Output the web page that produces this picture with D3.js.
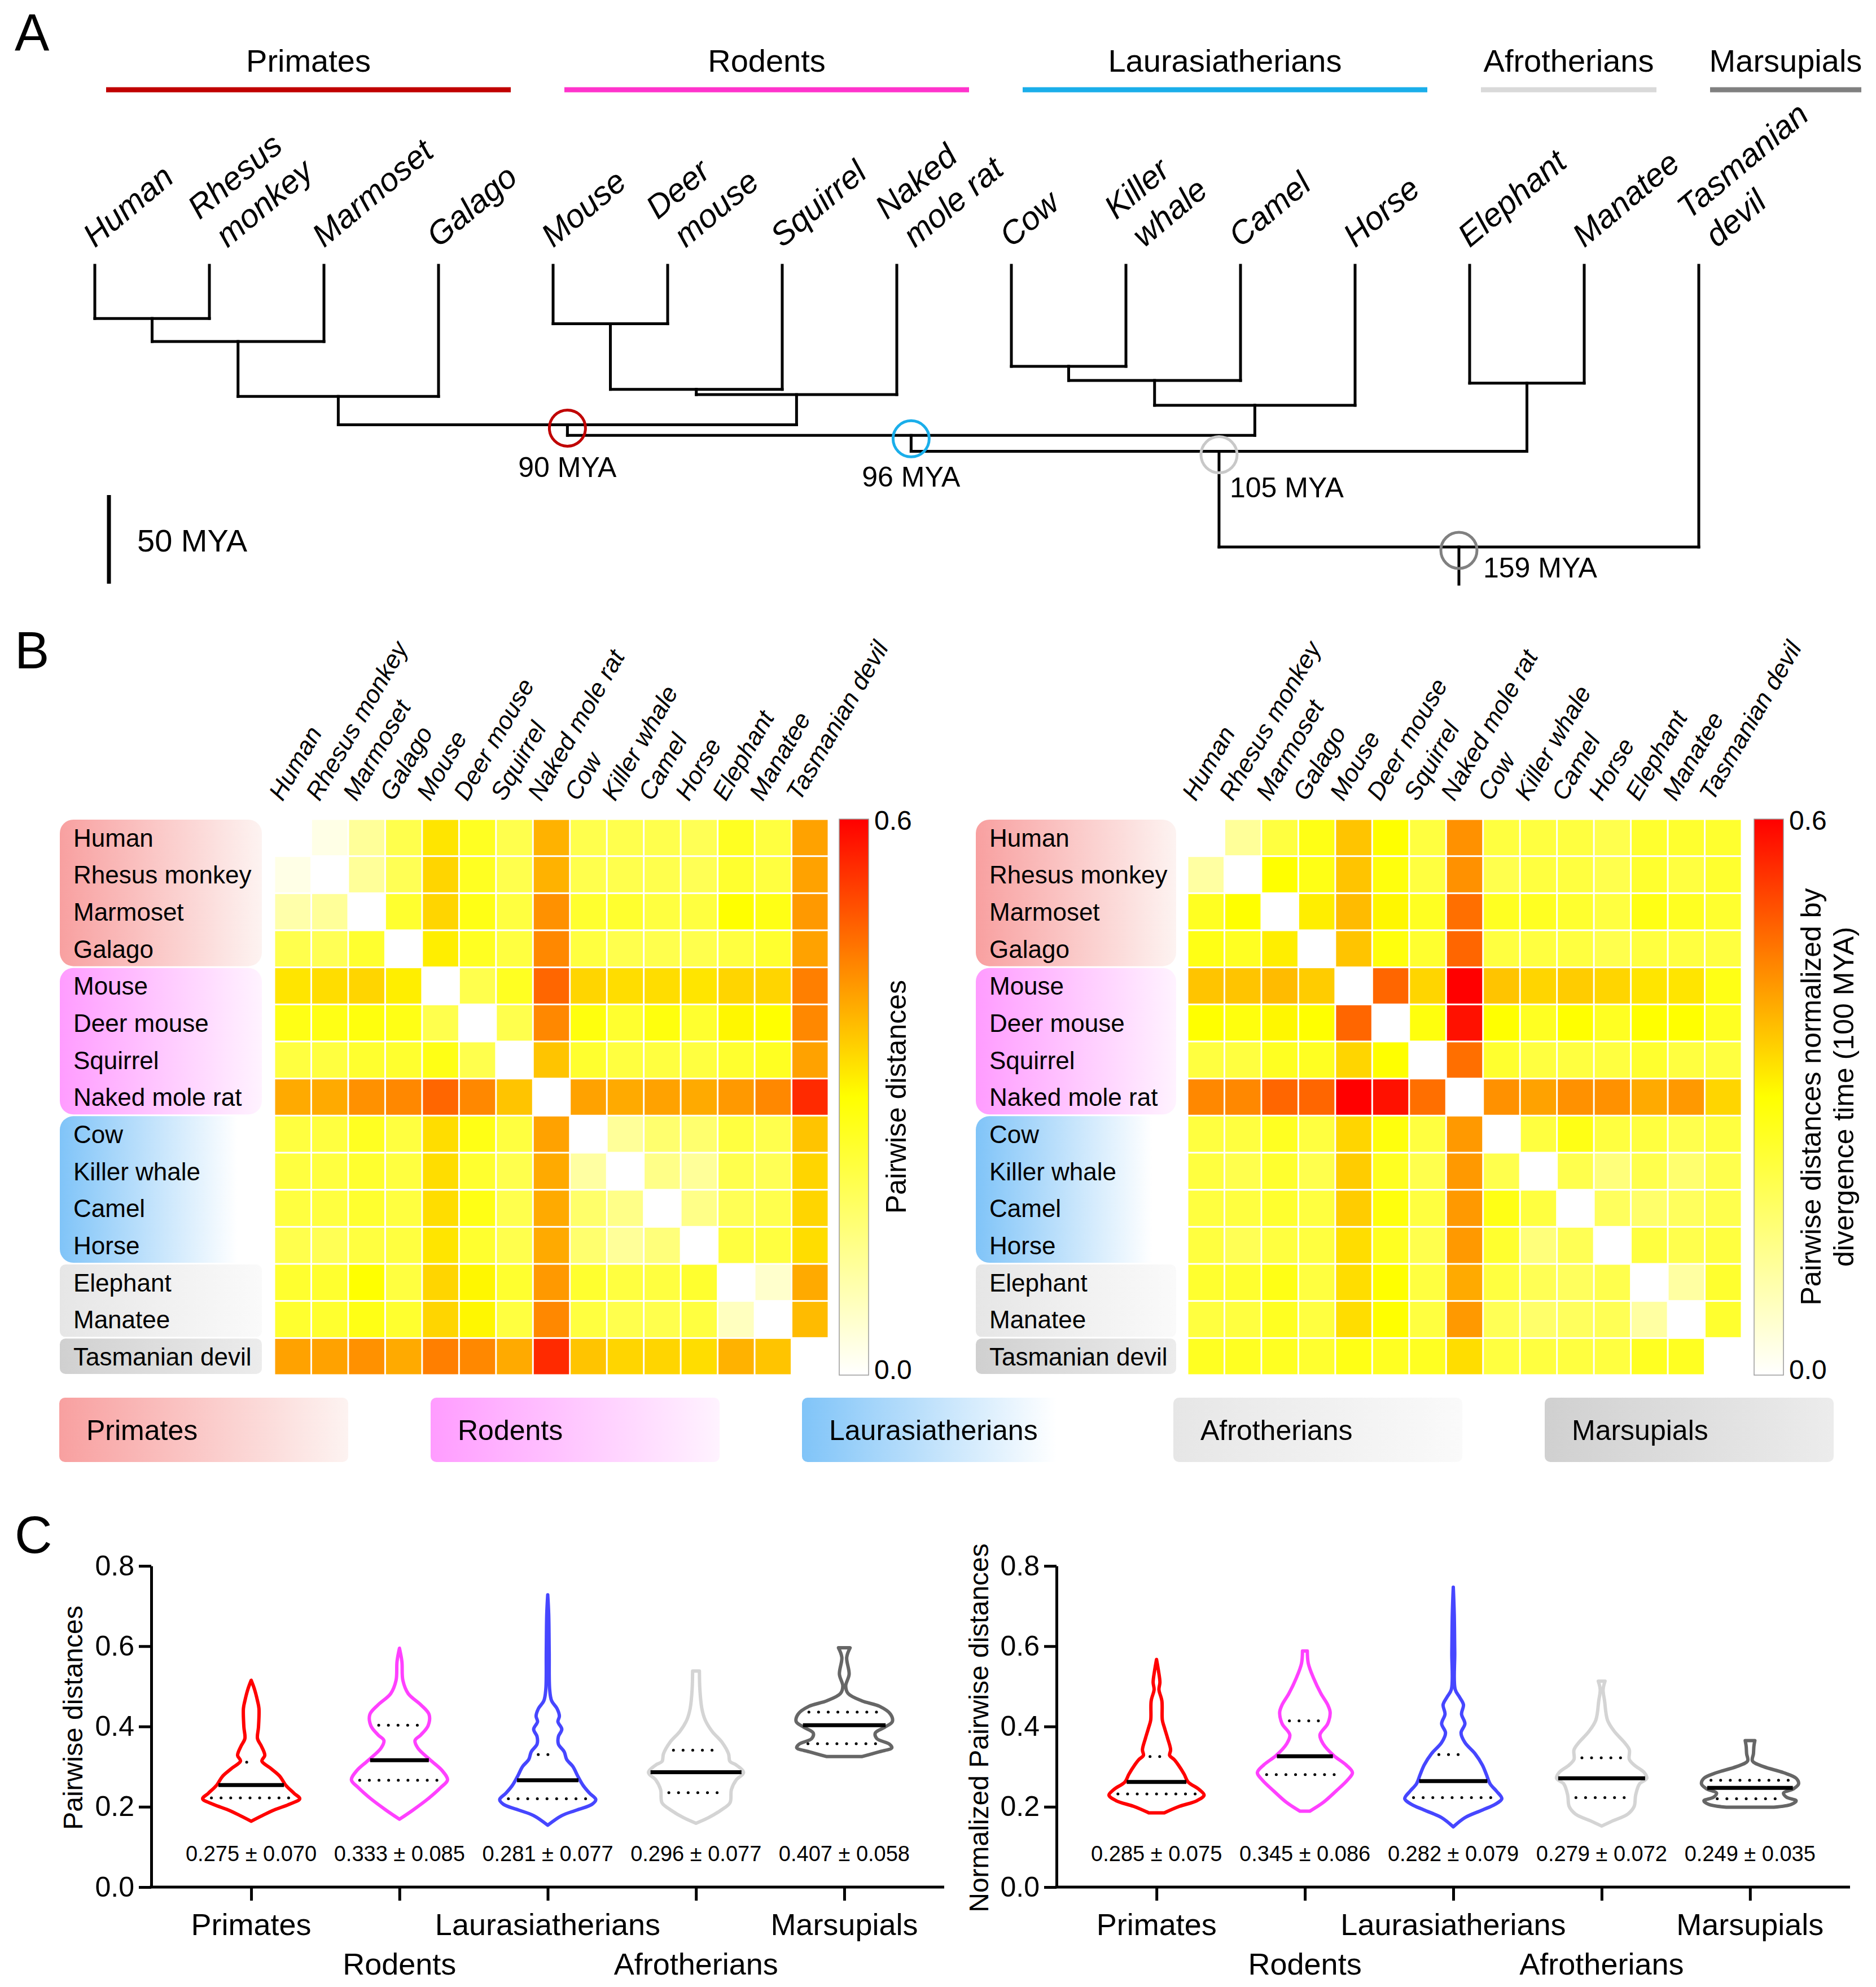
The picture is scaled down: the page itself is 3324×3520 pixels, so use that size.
<!DOCTYPE html>
<html>
<head>
<meta charset="utf-8">
<script src="https://cdn.jsdelivr.net/npm/d3@7"></script>
<style>
body { margin: 0; background: #fff; }
svg { display: block; }
text { font-family: "Liberation Sans", Arial, sans-serif; fill: #000; }
</style>
</head>
<body>
<svg width="3324" height="3520"></svg>
<script>
// ---- data ----
var species = ["Human", "Rhesus monkey", "Marmoset", "Galago", "Mouse", "Deer mouse", "Squirrel",
  "Naked mole rat", "Cow", "Killer whale", "Camel", "Horse", "Elephant", "Manatee", "Tasmanian devil"];
var tipLabels = [["Human"], ["Rhesus", "monkey"], ["Marmoset"], ["Galago"], ["Mouse"], ["Deer", "mouse"],
  ["Squirrel"], ["Naked", "mole rat"], ["Cow"], ["Killer", "whale"], ["Camel"], ["Horse"], ["Elephant"],
  ["Manatee"], ["Tasmanian", "devil"]];
var groups = ["Primates", "Rodents", "Laurasiatherians", "Afrotherians", "Marsupials"];
var groupSizes = [4, 4, 4, 2, 1];

// tree: [child A, child B, age (MYA), node name]
var merges = [
  ["Human", "Rhesus monkey", 30, "n1"],
  ["n1", "Marmoset", 43, "n2"],
  ["n2", "Galago", 74, "primates"],
  ["Mouse", "Deer mouse", 33, "n4"],
  ["n4", "Squirrel", 70, "n5"],
  ["n5", "Naked mole rat", 73, "rodents"],
  ["primates", "rodents", 90, "euarchontoglires"],
  ["Cow", "Killer whale", 57, "n8"],
  ["n8", "Camel", 65, "n9"],
  ["n9", "Horse", 79, "laurasiatheria"],
  ["euarchontoglires", "laurasiatheria", 96, "boreoeutheria"],
  ["Elephant", "Manatee", 66.5, "afrotheria"],
  ["boreoeutheria", "afrotheria", 105, "eutheria"],
  ["eutheria", "Tasmanian devil", 159, "theria"]
];
var rootStubAge = 180;
var markedNodes = ["euarchontoglires", "boreoeutheria", "eutheria", "theria"];
var markedLabels = ["90 MYA", "96 MYA", "105 MYA", "159 MYA"];

// pairwise distances (rows/cols in species order)
var rawDist = [
  [0, 0.03, 0.12, 0.21, 0.33, 0.26, 0.21, 0.39, 0.21, 0.21, 0.21, 0.20, 0.26, 0.225, 0.41],
  [0.03, 0, 0.12, 0.20, 0.35, 0.26, 0.21, 0.39, 0.21, 0.21, 0.21, 0.20, 0.245, 0.225, 0.41],
  [0.10, 0.12, 0, 0.245, 0.35, 0.275, 0.225, 0.43, 0.245, 0.245, 0.225, 0.225, 0.30, 0.275, 0.42],
  [0.21, 0.20, 0.245, 0, 0.32, 0.26, 0.225, 0.44, 0.225, 0.21, 0.21, 0.21, 0.225, 0.245, 0.41],
  [0.33, 0.34, 0.35, 0.32, 0, 0.21, 0.26, 0.48, 0.35, 0.34, 0.34, 0.33, 0.35, 0.35, 0.45],
  [0.275, 0.275, 0.285, 0.275, 0.21, 0, 0.21, 0.44, 0.285, 0.245, 0.285, 0.245, 0.31, 0.30, 0.44],
  [0.225, 0.225, 0.245, 0.245, 0.275, 0.21, 0, 0.37, 0.245, 0.225, 0.225, 0.225, 0.245, 0.26, 0.41],
  [0.40, 0.40, 0.43, 0.44, 0.48, 0.44, 0.37, 0, 0.41, 0.40, 0.41, 0.40, 0.42, 0.44, 0.55],
  [0.225, 0.225, 0.26, 0.225, 0.34, 0.275, 0.225, 0.41, 0, 0.12, 0.17, 0.17, 0.225, 0.21, 0.37],
  [0.225, 0.225, 0.245, 0.225, 0.34, 0.245, 0.21, 0.40, 0.11, 0, 0.14, 0.12, 0.21, 0.20, 0.35],
  [0.225, 0.225, 0.245, 0.225, 0.34, 0.275, 0.21, 0.40, 0.175, 0.14, 0, 0.14, 0.20, 0.21, 0.35],
  [0.21, 0.20, 0.225, 0.225, 0.33, 0.245, 0.21, 0.40, 0.17, 0.12, 0.155, 0, 0.225, 0.225, 0.34],
  [0.245, 0.245, 0.30, 0.225, 0.35, 0.31, 0.245, 0.42, 0.245, 0.225, 0.225, 0.245, 0, 0.06, 0.40],
  [0.245, 0.245, 0.275, 0.245, 0.35, 0.31, 0.225, 0.44, 0.225, 0.21, 0.21, 0.225, 0.075, 0, 0.38],
  [0.41, 0.41, 0.43, 0.40, 0.45, 0.44, 0.40, 0.55, 0.37, 0.35, 0.35, 0.34, 0.39, 0.37, 0]
];
var normDist = [
  [0, 0.12, 0.225, 0.275, 0.37, 0.30, 0.225, 0.43, 0.225, 0.225, 0.225, 0.21, 0.245, 0.245, 0.245],
  [0.11, 0, 0.30, 0.275, 0.37, 0.285, 0.225, 0.43, 0.21, 0.225, 0.225, 0.21, 0.245, 0.225, 0.245],
  [0.26, 0.30, 0, 0.32, 0.38, 0.31, 0.26, 0.47, 0.26, 0.26, 0.245, 0.225, 0.275, 0.26, 0.245],
  [0.275, 0.26, 0.32, 0, 0.37, 0.285, 0.245, 0.48, 0.225, 0.225, 0.225, 0.21, 0.225, 0.225, 0.225],
  [0.37, 0.37, 0.38, 0.36, 0, 0.48, 0.35, 0.60, 0.37, 0.35, 0.36, 0.35, 0.33, 0.33, 0.275],
  [0.30, 0.285, 0.31, 0.30, 0.48, 0, 0.285, 0.58, 0.30, 0.26, 0.30, 0.26, 0.30, 0.30, 0.26],
  [0.225, 0.225, 0.26, 0.26, 0.35, 0.30, 0, 0.47, 0.245, 0.225, 0.225, 0.225, 0.245, 0.225, 0.225],
  [0.44, 0.44, 0.48, 0.48, 0.60, 0.58, 0.47, 0, 0.43, 0.41, 0.43, 0.43, 0.40, 0.42, 0.35],
  [0.225, 0.225, 0.26, 0.225, 0.35, 0.285, 0.225, 0.42, 0, 0.225, 0.275, 0.225, 0.225, 0.21, 0.225],
  [0.225, 0.21, 0.245, 0.21, 0.36, 0.26, 0.21, 0.42, 0.21, 0, 0.21, 0.155, 0.21, 0.17, 0.21],
  [0.225, 0.225, 0.245, 0.225, 0.36, 0.285, 0.225, 0.42, 0.275, 0.225, 0, 0.19, 0.175, 0.19, 0.21],
  [0.225, 0.20, 0.225, 0.225, 0.34, 0.26, 0.21, 0.42, 0.245, 0.155, 0.20, 0, 0.225, 0.21, 0.225],
  [0.245, 0.245, 0.275, 0.225, 0.34, 0.30, 0.225, 0.40, 0.225, 0.20, 0.19, 0.21, 0, 0.11, 0.245],
  [0.225, 0.225, 0.26, 0.225, 0.34, 0.30, 0.225, 0.42, 0.20, 0.175, 0.19, 0.20, 0.11, 0, 0.245],
  [0.26, 0.26, 0.26, 0.245, 0.275, 0.26, 0.26, 0.34, 0.225, 0.225, 0.225, 0.225, 0.26, 0.26, 0]
];

// violin outlines: [value, relative density]
var rawViolins = [
  [[0.164,0],[0.177,0.21],[0.192,0.47],[0.206,0.78],[0.220,1.0],[0.234,0.88],[0.254,0.71],[0.276,0.59],[0.295,0.41],[0.314,0.22],[0.328,0.28],[0.351,0.21],[0.370,0.13],[0.398,0.15],[0.445,0.16],[0.464,0.13],[0.492,0.07],[0.515,0]],
  [[0.169,0],[0.192,0.28],[0.220,0.59],[0.248,0.85],[0.267,0.99],[0.290,0.88],[0.316,0.64],[0.346,0.38],[0.365,0.32],[0.379,0.44],[0.402,0.59],[0.430,0.61],[0.454,0.44],[0.482,0.18],[0.515,0.07],[0.562,0.05],[0.595,0]],
  [[0.154,0],[0.178,0.29],[0.192,0.60],[0.206,0.91],[0.218,0.99],[0.234,0.86],[0.253,0.73],[0.276,0.62],[0.300,0.52],[0.318,0.39],[0.337,0.34],[0.356,0.22],[0.375,0.22],[0.393,0.29],[0.412,0.21],[0.426,0.24],[0.445,0.19],[0.464,0.08],[0.492,0.04],[0.585,0.03],[0.679,0.02],[0.728,0]],
  [[0.159,0],[0.173,0.26],[0.192,0.52],[0.210,0.70],[0.243,0.73],[0.267,0.83],[0.285,0.98],[0.304,0.83],[0.313,0.70],[0.332,0.67],[0.360,0.54],[0.388,0.33],[0.416,0.19],[0.445,0.12],[0.492,0.08],[0.538,0.07]],
  [[0.325,0.36],[0.337,0.72],[0.347,0.98],[0.356,0.93],[0.370,0.67],[0.384,0.64],[0.398,0.83],[0.412,0.99],[0.431,0.95],[0.450,0.73],[0.464,0.36],[0.482,0.08],[0.501,0.03],[0.530,0.10],[0.572,0.05],[0.596,0.12]]
];
var normViolins = [
  [[0.185,0.16],[0.201,0.47],[0.215,0.83],[0.229,0.98],[0.243,0.88],[0.262,0.65],[0.281,0.57],[0.304,0.45],[0.318,0.36],[0.328,0.27],[0.342,0.29],[0.370,0.23],[0.398,0.16],[0.416,0.12],[0.464,0.11],[0.492,0.05],[0.510,0.07],[0.539,0.04],[0.567,0]],
  [[0.189,0.10],[0.211,0.38],[0.239,0.64],[0.267,0.88],[0.285,0.98],[0.304,0.85],[0.328,0.59],[0.356,0.38],[0.379,0.31],[0.407,0.47],[0.435,0.52],[0.454,0.47],[0.482,0.33],[0.520,0.18],[0.557,0.07],[0.588,0.05]],
  [[0.150,0],[0.173,0.24],[0.192,0.60],[0.206,0.86],[0.220,1.0],[0.239,0.89],[0.257,0.76],[0.281,0.68],[0.304,0.60],[0.332,0.45],[0.360,0.24],[0.384,0.16],[0.407,0.24],[0.431,0.17],[0.454,0.21],[0.473,0.13],[0.492,0.04],[0.585,0.03],[0.679,0.02],[0.747,0]],
  [[0.152,0],[0.164,0.21],[0.182,0.54],[0.201,0.67],[0.229,0.70],[0.257,0.78],[0.271,0.93],[0.285,0.88],[0.304,0.67],[0.318,0.57],[0.342,0.57],[0.360,0.47],[0.388,0.26],[0.416,0.12],[0.464,0.06],[0.492,0.03],[0.513,0.07]],
  [[0.199,0.49],[0.206,0.85],[0.215,0.95],[0.224,0.75],[0.234,0.69],[0.245,0.90],[0.257,1.0],[0.271,0.95],[0.285,0.69],[0.300,0.28],[0.314,0.05],[0.332,0.07],[0.351,0.08],[0.365,0.10]]
];
var rawMedian = [0.254, 0.316, 0.266, 0.286, 0.403];
var rawQ1 = [0.222, 0.266, 0.220, 0.235, 0.357];
var rawQ3 = [0.311, 0.403, 0.330, 0.341, 0.436];
var normMedian = [0.262, 0.326, 0.264, 0.271, 0.247];
var normQ1 = [0.232, 0.280, 0.223, 0.223, 0.220];
var normQ3 = [0.325, 0.414, 0.330, 0.322, 0.266];
var rawMean = [0.275, 0.333, 0.281, 0.296, 0.407];
var rawSD = [0.070, 0.085, 0.077, 0.077, 0.058];
var normMean = [0.285, 0.345, 0.282, 0.279, 0.249];
var normSD = [0.075, 0.086, 0.079, 0.072, 0.035];
var yTicks = [0, 0.2, 0.4, 0.6, 0.8];

// ---- styles ----
var barColors = ["#c00000", "#ff33cc", "#1aaeea", "#d9d9d9", "#808080"];
var markColors = ["#c00000", "#1aaeea", "#c8c8c8", "#808080"];
var violinColors = ["#ff0000", "#ff40ff", "#4646ff", "#d4d4d4", "#666666"];
var boxFrom = ["#f8a0a0", "#ff9cff", "#80c4f8", "#e6e6e6", "#d0d0d0"];
var boxTo = ["#fdf3f1", "#fff3ff", "#ffffff", "#fafafa", "#ececec"];
var fontFam = "'Liberation Sans', Arial, sans-serif";

var svg = d3.select("svg");
svg.append("rect").attr("width", 3324).attr("height", 3520).attr("fill", "#fff");
var defs = svg.append("defs");

groups.forEach(function(gname, i) {
  var lg = defs.append("linearGradient").attr("id", "box" + i).attr("x1", 0).attr("x2", 1).attr("y1", 0).attr("y2", 0);
  lg.append("stop").attr("offset", 0).attr("stop-color", boxFrom[i]);
  lg.append("stop").attr("offset", i == 2 ? 0.88 : 1).attr("stop-color", boxTo[i]);
});

var speciesGroup = [];
groupSizes.forEach(function(n, i) { for (var k = 0; k < n; k++) speciesGroup.push(i); });

function panelLetter(t, y) {
  svg.append("text").attr("x", 26).attr("y", y).attr("font-size", 92).text(t);
}

// ---- A: tree ----
panelLetter("A", 90);

var tipX = d3.scalePoint().domain(species).range([168, 3010]);
var ageY = d3.scaleLinear().domain([0, 159]).range([470, 969]);

var byName = {};
species.forEach(function(s) { byName[s] = {name: s, age: 0}; });
merges.forEach(function(m) {
  byName[m[3]] = {name: m[3], age: m[2], children: [byName[m[0]], byName[m[1]]]};
});
var root = d3.hierarchy(byName[merges[merges.length - 1][3]]);
root.eachAfter(function(n) {
  n.x = n.children ? d3.mean(n.children, function(c) { return c.x; }) : tipX(n.data.name);
});

var tree = svg.append("g").attr("stroke", "#000").attr("stroke-width", 5).attr("stroke-linecap", "square");
root.descendants().forEach(function(n) {
  var top = ageY(n.data.age);
  var bottom = n.parent ? ageY(n.parent.data.age) : ageY(rootStubAge);
  tree.append("line").attr("x1", n.x).attr("x2", n.x).attr("y1", top).attr("y2", bottom);
  if (n.children) {
    tree.append("line").attr("x1", n.children[0].x).attr("x2", n.children[1].x).attr("y1", top).attr("y2", top);
  }
});

// group bars + names
var start = 0;
groups.forEach(function(gname, i) {
  var first = species[start], last = species[start + groupSizes[i] - 1];
  var x1 = tipX(first) + 20;
  var x2 = Math.max(tipX(last) + 128, x1 + 268);
  svg.append("line").attr("x1", x1).attr("x2", x2).attr("y1", 159).attr("y2", 159)
    .attr("stroke", barColors[i]).attr("stroke-width", 9);
  svg.append("text").attr("x", (x1 + x2) / 2).attr("y", 127).attr("text-anchor", "middle")
    .attr("font-size", 56).text(gname);
  start += groupSizes[i];
});

// tip labels
species.forEach(function(s, i) {
  var lines = tipLabels[i];
  var dx = lines.length > 1 ? 32 : 0;
  var t = svg.append("text")
    .attr("transform", "translate(" + (tipX(s) + dx) + ",440) rotate(-40)")
    .attr("font-style", "italic").attr("font-size", 58);
  lines.forEach(function(l, k) {
    t.append("tspan").attr("x", (lines.length > 1 && k == 0) ? -6 : 0)
      .attr("y", (k - (lines.length - 1)) * 70).text(l);
  });
});

// marked divergence nodes
var markLabelPos = [
  {dx: 0, dy: 93, anchor: "middle"},
  {dx: 0, dy: 91, anchor: "middle"},
  {dx: 19, dy: 81, anchor: "start"},
  {dx: 43, dy: 54, anchor: "start"}
];
markedNodes.forEach(function(name, i) {
  var n = root.find(function(d) { return d.data.name == name; });
  var cy = ageY(n.data.age);
  svg.append("circle").attr("cx", n.x).attr("cy", cy + 6).attr("r", 32)
    .attr("fill", "none").attr("stroke", markColors[i]).attr("stroke-width", 5);
  svg.append("text").attr("x", n.x + markLabelPos[i].dx).attr("y", cy + markLabelPos[i].dy)
    .attr("text-anchor", markLabelPos[i].anchor).attr("font-size", 50).text(markedLabels[i]);
});

// scale bar
svg.append("line").attr("x1", 193).attr("x2", 193).attr("y1", 877).attr("y2", 877 + ageY(50) - ageY(0))
  .attr("stroke", "#000").attr("stroke-width", 7);
svg.append("text").attr("x", 243).attr("y", 977).attr("font-size", 56).text("50 MYA");

// ---- B: heatmaps ----
panelLetter("B", 1184);

var heatColor = d3.scaleLinear().domain([0, 0.3, 0.6]).range(["#ffffff", "#ffff00", "#ff0000"]).clamp(true);

var cg = defs.append("linearGradient").attr("id", "cbar").attr("x1", 0).attr("x2", 0).attr("y1", 1).attr("y2", 0);
d3.range(0, 1.001, 0.1).forEach(function(f) {
  cg.append("stop").attr("offset", f).attr("stop-color", heatColor(f * 0.6));
});

function drawHeatmap(mat, gx, boxX0, boxX1, cbX, titleLines) {
  var xb = d3.scaleBand().domain(species).range([gx, gx + 982]);
  var yb = d3.scaleBand().domain(species).range([1451, 2436]);
  var bw = xb.bandwidth(), bh = yb.bandwidth();
  var g = svg.append("g");

  // row group boxes
  var s0 = 0;
  groups.forEach(function(gname, i) {
    var y0 = yb(species[s0]);
    g.append("rect").attr("x", boxX0).attr("y", y0 + 1).attr("width", boxX1 - boxX0)
      .attr("height", groupSizes[i] * bh - 3).attr("rx", i < 3 ? 24 : 10)
      .attr("fill", "url(#box" + i + ")");
    s0 += groupSizes[i];
  });
  species.forEach(function(s) {
    g.append("text").attr("x", boxX0 + 24).attr("y", yb(s) + bh / 2).attr("dy", "0.36em")
      .attr("font-size", 44).text(s);
  });

  // cells
  mat.forEach(function(row, i) {
    row.forEach(function(v, j) {
      if (i == species.length - 1 && j == species.length - 1) return;
      g.append("rect").attr("x", xb(species[j]) + 1.5).attr("y", yb(species[i]) + 1.5)
        .attr("width", bw - 3).attr("height", bh - 3).attr("fill", heatColor(v));
    });
  });

  // column labels
  species.forEach(function(s) {
    g.append("text").attr("transform", "translate(" + (xb(s) + bw / 2 - 18) + ",1421) rotate(-60)")
      .attr("font-style", "italic").attr("font-size", 44).text(s);
  });

  // colour bar
  g.append("rect").attr("x", cbX).attr("y", 1451).attr("width", 52).attr("height", 985)
    .attr("fill", "url(#cbar)").attr("stroke", "#9a9a9a").attr("stroke-width", 1.5);
  g.append("text").attr("x", cbX + 62).attr("y", 1470).attr("font-size", 48).text("0.6");
  g.append("text").attr("x", cbX + 62).attr("y", 2443).attr("font-size", 48).text("0.0");
  titleLines.forEach(function(l, k) {
    var cx = cbX + 118 + k * 58;
    g.append("text").attr("transform", "translate(" + cx + ",1943) rotate(-90)")
      .attr("text-anchor", "middle").attr("font-size", 50).text(l);
  });
}

drawHeatmap(rawDist, 486, 106, 464, 1487, ["Pairwise distances"]);
drawHeatmap(normDist, 2104, 1729, 2084, 3108, ["Pairwise distances normalized by", "divergence time (100 MYA)"]);

// group legend
groups.forEach(function(gname, i) {
  svg.append("rect").attr("x", 105 + i * 658).attr("y", 2476).attr("width", 512).attr("height", 114)
    .attr("rx", 10).attr("fill", "url(#box" + i + ")");
  svg.append("text").attr("x", 153 + i * 658).attr("y", 2533).attr("dy", "0.36em")
    .attr("font-size", 50).text(gname);
});

// ---- C: violins ----
panelLetter("C", 2751);

var fmt = d3.format(".3f");
var relW = d3.scaleLinear().domain([0, 1]).range([0, 86]);

function widthAt(pts, v) {
  for (var k = 0; k < pts.length - 1; k++) {
    if (v >= pts[k][0] && v <= pts[k + 1][0]) {
      var t = (v - pts[k][0]) / (pts[k + 1][0] - pts[k][0]);
      return pts[k][1] + t * (pts[k + 1][1] - pts[k][1]);
    }
  }
  return 0;
}

function drawViolins(ax, axEnd, violins, med, q1, q3, mean, sd, title, titleX, titleY) {
  var y = d3.scaleLinear().domain([0, 0.8]).range([3343, 2774]);
  var x = d3.scalePoint().domain(groups).range([ax, axEnd]).padding(0.674);
  var g = svg.append("g");

  var yAxis = g.append("g").attr("transform", "translate(" + ax + ",0)")
    .call(d3.axisLeft(y).tickValues(yTicks).tickFormat(d3.format(".1f")).tickSize(22).tickPadding(8).tickSizeOuter(0));
  var xAxis = g.append("g").attr("transform", "translate(0," + y(0) + ")")
    .call(d3.axisBottom(x).tickSize(24).tickSizeOuter(0).tickFormat(""));
  [yAxis, xAxis].forEach(function(a) {
    a.selectAll("path, line").attr("stroke", "#000").attr("stroke-width", 5);
    a.selectAll("text").attr("font-size", 50).attr("font-family", fontFam).attr("fill", "#000");
  });
  xAxis.select(".domain").attr("d", "M" + (ax - 2.5) + ",0H" + axEnd);

  groups.forEach(function(gname, i) {
    var cx = x(gname);
    g.append("text").attr("x", cx).attr("y", i % 2 == 0 ? 3428 : 3498).attr("text-anchor", "middle")
      .attr("font-size", 54).text(gname);

    var area = d3.area().curve(d3.curveCatmullRom)
      .y(function(d) { return y(d[0]); })
      .x0(function(d) { return cx - relW(d[1]); })
      .x1(function(d) { return cx + relW(d[1]); });
    g.append("path").attr("d", area(violins[i])).attr("fill", "none")
      .attr("stroke", violinColors[i]).attr("stroke-width", 6).attr("stroke-linejoin", "round");

    var hm = relW(widthAt(violins[i], med[i])) - 3;
    g.append("line").attr("x1", cx - hm).attr("x2", cx + hm).attr("y1", y(med[i])).attr("y2", y(med[i]))
      .attr("stroke", "#000").attr("stroke-width", 7);
    [q1[i], q3[i]].forEach(function(q) {
      var hq = Math.max(relW(widthAt(violins[i], q)) - 14, 8);
      g.append("line").attr("x1", cx - hq).attr("x2", cx + hq).attr("y1", y(q)).attr("y2", y(q))
        .attr("stroke", "#000").attr("stroke-width", 5).attr("stroke-linecap", "round")
        .attr("stroke-dasharray", "0.1,17");
    });

    g.append("text").attr("x", cx).attr("y", 3297).attr("text-anchor", "middle").attr("font-size", 38)
      .text(fmt(mean[i]) + " \u00b1 " + fmt(sd[i]));
  });

  g.append("text").attr("transform", "translate(" + titleX + "," + titleY + ") rotate(-90)")
    .attr("text-anchor", "middle").attr("dy", "0.36em").attr("font-size", 48).text(title);
}

drawViolins(268, 1673, rawViolins, rawMedian, rawQ1, rawQ3, rawMean, rawSD, "Pairwise distances", 129, 3043);
drawViolins(1872, 3278, normViolins, normMedian, normQ1, normQ3, normMean, normSD, "Normalized Pairwise distances", 1734, 3061);
</script>
</body>
</html>
